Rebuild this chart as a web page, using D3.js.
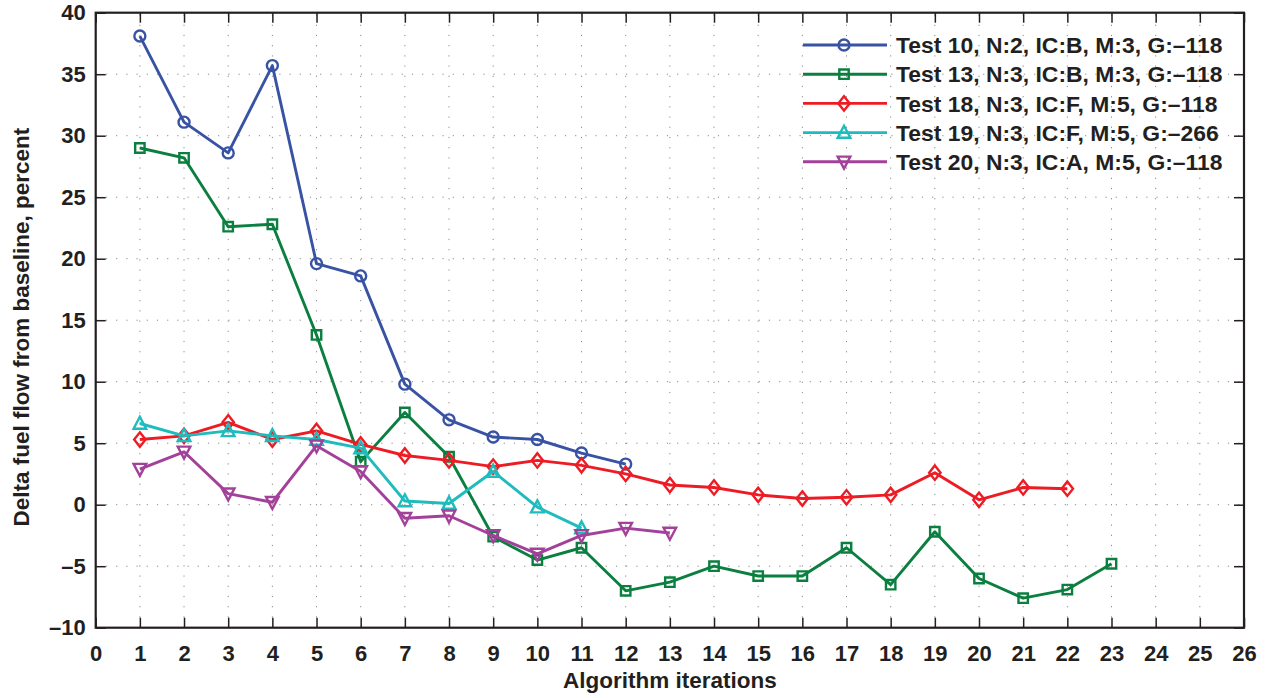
<!DOCTYPE html>
<html>
<head>
<meta charset="utf-8">
<script src="https://cdn.jsdelivr.net/npm/d3@7"></script>
<style>
  html, body { margin: 0; padding: 0; background: #fff; }
  svg { display: block; }
  text { font-family: "Liberation Sans", Arial, Helvetica, sans-serif; font-weight: bold; fill: #231f20; }
</style>
</head>
<body>
<svg id="chart" width="1270" height="698"></svg>
<script>
// Iteration numbers shared by every test
const iterations = d3.range(1, 24);

// Delta fuel flow from baseline (percent) per algorithm iteration
const test10 = [38.1, 31.1, 28.6, 35.7, 19.6, 18.6, 9.8, 6.9, 5.5, 5.3, 4.2, 3.3];
const test13 = [29.0, 28.2, 22.6, 22.8, 13.8, 3.5, 7.5, 3.9, -2.6, -4.5, -3.5, -7.0,
                -6.3, -5.0, -5.8, -5.8, -3.5, -6.5, -2.2, -6.0, -7.6, -6.9, -4.8];
const test18 = [5.3, 5.6, 6.7, 5.3, 6.0, 4.9, 4.0, 3.6, 3.1, 3.6, 3.2, 2.5,
                1.6, 1.4, 0.8, 0.5, 0.6, 0.8, 2.6, 0.4, 1.4, 1.3];
const test19 = [6.6, 5.6, 6.0, 5.6, 5.3, 4.6, 0.3, 0.1, 2.7, -0.2, -1.9];
const test20 = [2.9, 4.3, 0.9, 0.2, 4.8, 2.7, -1.1, -0.9, -2.5, -4.0, -2.5, -1.9, -2.3];

const seriesNames = [
  "Test 10, N:2, IC:B, M:3, G:\u2013118",
  "Test 13, N:3, IC:B, M:3, G:\u2013118",
  "Test 18, N:3, IC:F, M:5, G:\u2013118",
  "Test 19, N:3, IC:F, M:5, G:\u2013266",
  "Test 20, N:3, IC:A, M:5, G:\u2013118"
];
const seriesValues = [test10, test13, test18, test19, test20];
const seriesColors = ["#3953a4", "#0b7f3f", "#ed1c24", "#1fbcbd", "#a3419a"];
const seriesMarkers = ["circle", "square", "diamond", "triangle", "triangleDown"];

const xTicks = d3.range(0, 27);
const yTicks = d3.range(-10, 41, 5);

const xLabel = "Algorithm iterations";
const yLabel = "Delta fuel flow from baseline, percent";

const svg = d3.select("#chart");
const plotLeft = 95.7, plotRight = 1244, plotTop = 12.7, plotBottom = 627.7;

const x = d3.scaleLinear().domain([0, 26]).range([plotLeft, plotRight]);
const y = d3.scaleLinear().domain([-10, 40]).range([plotBottom, plotTop]);

const fmt = v => (v < 0 ? "\u2013" + Math.abs(v) : String(v));

// Dotted grid
const grid = svg.append("g").attr("stroke", "#8a8a8a").attr("stroke-width", 1)
  .attr("stroke-dasharray", "1.2,9");
grid.selectAll("line.v").data(xTicks.slice(1, -1)).join("line").attr("class", "v")
  .attr("x1", d => x(d)).attr("x2", d => x(d)).attr("y1", plotBottom).attr("y2", plotTop);
grid.selectAll("line.h").data(yTicks.slice(1, -1)).join("line").attr("class", "h")
  .attr("x1", plotLeft).attr("x2", plotRight).attr("y1", d => y(d)).attr("y2", d => y(d));

// Axes with inward ticks
const tickLen = 10;
svg.append("g").attr("transform", `translate(0,${plotBottom})`)
  .call(d3.axisBottom(x).tickValues(xTicks).tickSize(-tickLen).tickPadding(18).tickFormat(fmt))
  .call(g => g.select(".domain").remove())
  .call(g => g.selectAll("text").attr("font-size", 22).attr("dy", "0.71em"));
svg.append("g").attr("transform", `translate(${plotLeft},0)`)
  .call(d3.axisLeft(y).tickValues(yTicks).tickSize(-tickLen).tickPadding(10).tickFormat(fmt))
  .call(g => g.select(".domain").remove())
  .call(g => g.selectAll("text").attr("font-size", 22));
svg.append("g").attr("transform", `translate(0,${plotTop})`)
  .call(d3.axisTop(x).tickValues(xTicks).tickSize(-tickLen).tickFormat(""))
  .call(g => g.select(".domain").remove());
svg.append("g").attr("transform", `translate(${plotRight},0)`)
  .call(d3.axisRight(y).tickValues(yTicks).tickSize(-tickLen).tickFormat(""))
  .call(g => g.select(".domain").remove());
svg.selectAll(".tick line").attr("stroke", "#231f20").attr("stroke-width", 1.5);
svg.selectAll(".tick text").attr("fill", "#231f20");

// Plot frame
svg.append("rect").attr("x", plotLeft).attr("y", plotTop)
  .attr("width", plotRight - plotLeft).attr("height", plotBottom - plotTop)
  .attr("fill", "none").attr("stroke", "#231f20").attr("stroke-width", 2.2);

// Marker shapes
function markerPath(kind) {
  switch (kind) {
    case "circle": return "M5.5,0A5.5,5.5 0 1,1 -5.5,0A5.5,5.5 0 1,1 5.5,0Z";
    case "square": return "M-4.7,-4.7H4.7V4.7H-4.7Z";
    case "diamond": return "M0,-7.2L5.7,0L0,7.2L-5.7,0Z";
    case "triangle": return "M0,-6.8L6.3,5.2L-6.3,5.2Z";
    case "triangleDown": return "M0,6.8L6.3,-5.2L-6.3,-5.2Z";
  }
}

const line = d3.line().x((d, i) => x(iterations[i])).y(d => y(d));

seriesValues.forEach((vals, k) => {
  const g = svg.append("g");
  g.append("path").datum(vals).attr("d", line)
    .attr("fill", "none").attr("stroke", seriesColors[k]).attr("stroke-width", 2.9)
    .attr("stroke-linejoin", "round");
  g.selectAll("path.m").data(vals).join("path").attr("class", "m")
    .attr("transform", (d, i) => `translate(${x(iterations[i])},${y(d)})`)
    .attr("d", markerPath(seriesMarkers[k]))
    .attr("fill", "none").attr("stroke", seriesColors[k]).attr("stroke-width", 2.4);
});

// Legend
const legend = svg.append("g");
const legY0 = 45, legStep = 29.2;
seriesNames.forEach((name, k) => {
  const ly = legY0 + k * legStep;
  legend.append("line").attr("x1", 803).attr("x2", 887).attr("y1", ly).attr("y2", ly)
    .attr("stroke", seriesColors[k]).attr("stroke-width", 2.9);
  legend.append("path").attr("transform", `translate(844,${ly})`)
    .attr("d", markerPath(seriesMarkers[k]))
    .attr("fill", "none").attr("stroke", seriesColors[k]).attr("stroke-width", 2.4);
  legend.append("text").attr("x", 896).attr("y", ly).attr("dy", "0.36em")
    .attr("font-size", 22.9).text(name);
});

// Axis titles
svg.append("text").attr("x", (plotLeft + plotRight) / 2).attr("y", 688)
  .attr("text-anchor", "middle").attr("font-size", 22.5).text(xLabel);
svg.append("text").attr("transform", `translate(29,${(plotTop + plotBottom) / 2 + 7}) rotate(-90)`)
  .attr("text-anchor", "middle").attr("font-size", 22.5).text(yLabel);
</script>
</body>
</html>
